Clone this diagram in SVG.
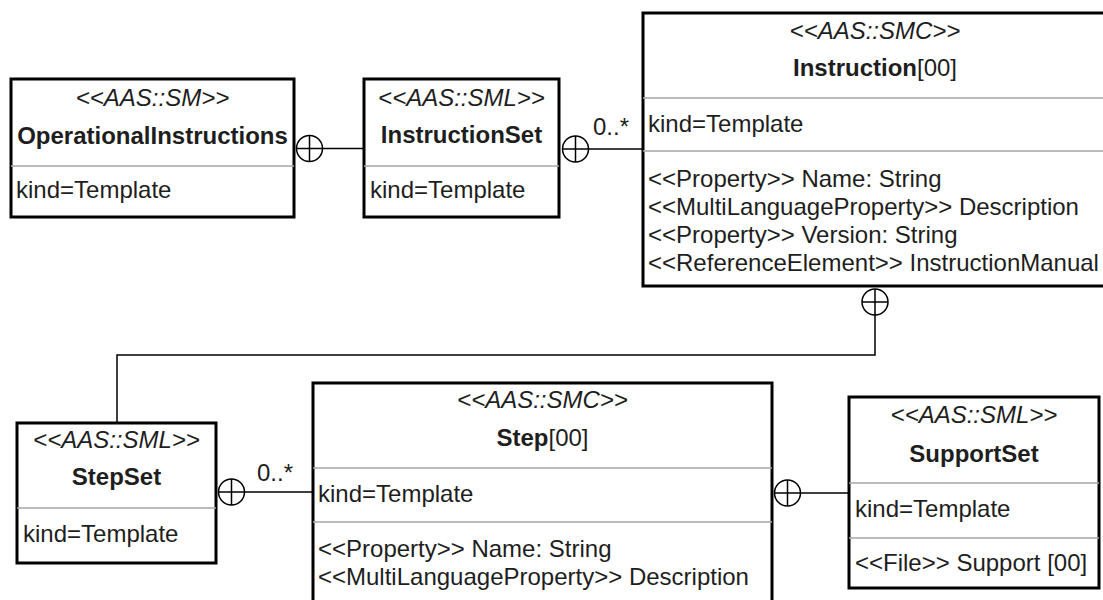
<svg xmlns="http://www.w3.org/2000/svg" width="1103" height="600" viewBox="0 0 1103 600">
  <style>
    .box { fill: #ffffff; stroke: #000000; stroke-width: 3; }
    .div { stroke: #a6a6a6; stroke-width: 1.5; fill: none; }
    .edge { stroke: #000000; stroke-width: 1.5; fill: none; }
    .plus { fill: #ffffff; stroke: #000000; stroke-width: 1.5; }
    text { font-family: "Liberation Sans", Arial, sans-serif; font-size: 24px; fill: #1e1e1e; }
    .st { font-style: italic; text-anchor: middle; }
    .nm { text-anchor: middle; }
    .b { font-weight: bold; }
  </style>
  <defs>
    <!-- composition symbol: circle with a cross -->
    <g id="oplus">
      <circle class="plus" cx="0" cy="0" r="13"/>
      <line class="edge" x1="-13" y1="0" x2="13" y2="0"/>
      <line class="edge" x1="0" y1="-13" x2="0" y2="13"/>
    </g>
  </defs>

  <g id="connectors">
    <line class="edge" x1="323" y1="148.5" x2="364" y2="148.5"/>
    <use href="#oplus" x="309.5" y="148.5"/>
    <line class="edge" x1="589" y1="149" x2="643" y2="149"/>
    <use href="#oplus" x="575.5" y="149"/>
    <text x="593" y="135">0..*</text>
    <path class="edge" d="M875 315 V355 H117 V423"/>
    <use href="#oplus" x="875" y="302"/>
    <line class="edge" x1="245" y1="492" x2="313" y2="492"/>
    <use href="#oplus" x="231.5" y="492"/>
    <text x="257" y="481">0..*</text>
    <line class="edge" x1="801" y1="493" x2="849" y2="493"/>
    <use href="#oplus" x="787.5" y="493"/>
  </g>

  <g id="OperationalInstructions">
    <rect class="box" x="11" y="79" width="283" height="138"/>
    <line class="div" x1="11" y1="166" x2="294" y2="166"/>
    <text class="st" x="152.5" y="106">&lt;&lt;AAS::SM&gt;&gt;</text>
    <text class="nm b" x="152.5" y="144">OperationalInstructions</text>
    <text x="16" y="198">kind=Template</text>
  </g>

  <g id="InstructionSet">
    <rect class="box" x="364" y="79" width="195" height="138"/>
    <line class="div" x1="364" y1="166" x2="559" y2="166"/>
    <text class="st" x="461.5" y="106">&lt;&lt;AAS::SML&gt;&gt;</text>
    <text class="nm b" x="461.5" y="143">InstructionSet</text>
    <text x="370" y="198">kind=Template</text>
  </g>

  <g id="Instruction">
    <rect class="box" x="643" y="13" width="465" height="273"/>
    <line class="div" x1="643" y1="98" x2="1108" y2="98"/>
    <line class="div" x1="643" y1="151" x2="1108" y2="151"/>
    <text class="st" x="875" y="39">&lt;&lt;AAS::SMC&gt;&gt;</text>
    <text class="nm" x="875" y="76"><tspan class="b">Instruction</tspan>[00]</text>
    <text x="648" y="132">kind=Template</text>
    <text x="648" y="187">&lt;&lt;Property&gt;&gt; Name: String</text>
    <text x="648" y="215">&lt;&lt;MultiLanguageProperty&gt;&gt; Description</text>
    <text x="648" y="243">&lt;&lt;Property&gt;&gt; Version: String</text>
    <text x="648" y="271">&lt;&lt;ReferenceElement&gt;&gt; InstructionManual</text>
  </g>

  <g id="StepSet">
    <rect class="box" x="17" y="423" width="199" height="140"/>
    <line class="div" x1="17" y1="508" x2="216" y2="508"/>
    <text class="st" x="116.5" y="448">&lt;&lt;AAS::SML&gt;&gt;</text>
    <text class="nm b" x="116.5" y="485">StepSet</text>
    <text x="23" y="542">kind=Template</text>
  </g>

  <g id="Step">
    <rect class="box" x="313" y="383" width="459" height="220"/>
    <line class="div" x1="313" y1="468" x2="772" y2="468"/>
    <line class="div" x1="313" y1="522" x2="772" y2="522"/>
    <text class="st" x="542.5" y="408">&lt;&lt;AAS::SMC&gt;&gt;</text>
    <text class="nm" x="542.5" y="446"><tspan class="b">Step</tspan>[00]</text>
    <text x="318" y="502">kind=Template</text>
    <text x="318" y="557">&lt;&lt;Property&gt;&gt; Name: String</text>
    <text x="318" y="585">&lt;&lt;MultiLanguageProperty&gt;&gt; Description</text>
  </g>

  <g id="SupportSet">
    <rect class="box" x="849" y="397" width="250" height="191"/>
    <line class="div" x1="849" y1="483" x2="1099" y2="483"/>
    <line class="div" x1="849" y1="538" x2="1099" y2="538"/>
    <text class="st" x="974" y="423">&lt;&lt;AAS::SML&gt;&gt;</text>
    <text class="nm b" x="974" y="462">SupportSet</text>
    <text x="855" y="517">kind=Template</text>
    <text x="855" y="571">&lt;&lt;File&gt;&gt; Support [00]</text>
  </g>
</svg>
